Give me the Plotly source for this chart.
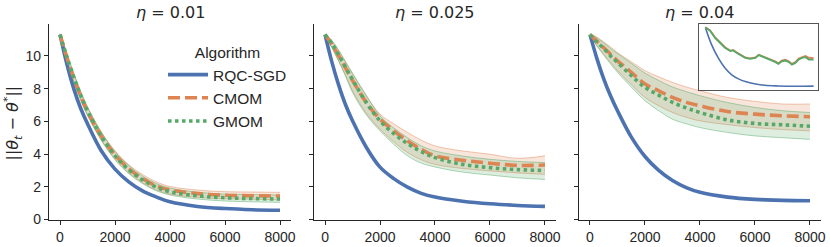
import plotly.graph_objects as go

# ---------------- data ----------------
steps = [0, 250, 500, 750, 1000, 1500, 2000, 2500, 3000, 3500, 4000, 5000, 6000, 7000, 8000]

etas = ["0.01", "0.025", "0.04"]

# eta = 0.01
p1_rqc = [11.3, 9.5, 8.0, 6.8, 5.85, 4.2, 3.08, 2.3, 1.75, 1.38, 1.08, 0.8, 0.67, 0.6, 0.57]
p1_cmom = [11.3, 9.9, 8.65, 7.55, 6.6, 5.1, 3.95, 3.1, 2.5, 2.05, 1.8, 1.58, 1.48, 1.45, 1.43]
p1_cmom_hi = [11.35, 10.1, 8.9, 7.8, 6.85, 5.35, 4.2, 3.35, 2.75, 2.3, 2.02, 1.8, 1.7, 1.68, 1.66]
p1_cmom_lo = [11.25, 9.7, 8.4, 7.3, 6.35, 4.85, 3.7, 2.85, 2.25, 1.8, 1.55, 1.35, 1.27, 1.24, 1.2]
p1_gmom = [11.3, 9.95, 8.7, 7.6, 6.65, 5.1, 3.9, 3.05, 2.42, 1.98, 1.7, 1.45, 1.33, 1.28, 1.25]
p1_gmom_hi = [11.35, 10.15, 8.95, 7.85, 6.9, 5.35, 4.15, 3.3, 2.65, 2.2, 1.92, 1.67, 1.55, 1.52, 1.5]
p1_gmom_lo = [11.25, 9.75, 8.45, 7.35, 6.4, 4.85, 3.65, 2.8, 2.2, 1.76, 1.5, 1.25, 1.13, 1.08, 1.05]

# eta = 0.025
p2_rqc = [11.3, 9.62, 8.2, 7.0, 6.03, 4.42, 3.2, 2.5, 1.98, 1.6, 1.37, 1.12, 0.96, 0.86, 0.8]
p2_cmom = [11.3, 10.7, 10.0, 9.25, 8.5, 7.16, 6.13, 5.42, 4.8, 4.29, 3.89, 3.62, 3.44, 3.31, 3.33]
p2_cmom_hi = [11.35, 10.9, 10.3, 9.6, 8.9, 7.55, 6.44, 5.85, 5.32, 4.85, 4.5, 4.19, 3.99, 3.74, 3.89]
p2_cmom_lo = [11.25, 10.5, 9.7, 8.8, 7.87, 6.5, 5.52, 4.75, 4.09, 3.65, 3.37, 3.12, 2.97, 2.85, 2.76]
p2_gmom = [11.3, 10.75, 10.05, 9.3, 8.55, 7.15, 6.03, 5.25, 4.64, 4.15, 3.78, 3.37, 3.17, 3.05, 3.0]
p2_gmom_hi = [11.35, 10.95, 10.35, 9.65, 8.95, 7.6, 6.34, 5.6, 5.0, 4.5, 4.19, 3.88, 3.68, 3.55, 3.48]
p2_gmom_lo = [11.25, 10.5, 9.65, 8.75, 7.77, 6.4, 5.42, 4.6, 3.89, 3.45, 3.21, 2.9, 2.72, 2.55, 2.45]

# eta = 0.04
p3_rqc = [11.3, 9.85, 8.6, 7.55, 6.65, 5.05, 3.85, 3.0, 2.38, 1.95, 1.66, 1.37, 1.23, 1.17, 1.15]
p3_cmom = [11.3, 10.9, 10.5, 10.1, 9.7, 9.0, 8.28, 7.87, 7.46, 7.16, 6.95, 6.6, 6.44, 6.34, 6.28]
p3_cmom_hi = [11.35, 11.15, 10.85, 10.55, 10.2, 9.65, 9.1, 8.72, 8.38, 8.1, 7.87, 7.46, 7.22, 7.06, 7.06]
p3_cmom_lo = [11.25, 10.65, 10.1, 9.6, 9.1, 8.25, 7.46, 6.95, 6.54, 6.25, 6.03, 5.8, 5.62, 5.5, 5.42]
p3_gmom = [11.3, 10.85, 10.45, 10.0, 9.6, 8.8, 8.08, 7.6, 7.16, 6.82, 6.54, 6.09, 5.87, 5.79, 5.7]
p3_gmom_hi = [11.35, 11.1, 10.8, 10.45, 10.15, 9.55, 8.95, 8.5, 8.1, 7.82, 7.57, 7.15, 6.85, 6.65, 6.54]
p3_gmom_lo = [11.25, 10.6, 10.05, 9.5, 9.0, 8.1, 7.26, 6.65, 6.13, 5.85, 5.62, 5.32, 5.11, 5.0, 4.9]

# inset (single run, eta = 0.04)
inset_steps = [0, 350, 700, 1100, 1450, 1850, 2050, 2300, 2700, 2950, 3300, 3700, 3950, 4150,
               4400, 4800, 5150, 5400, 5650, 5900, 6150, 6400, 6650, 6900, 7150, 7400, 7650, 8000]
inset_gmom = [11.3, 10.72, 9.56, 8.69, 7.82, 7.24, 7.36, 6.95, 6.37, 6.08, 5.91, 6.08, 6.55, 6.37,
              6.08, 5.79, 5.39, 5.04, 5.5, 5.62, 5.39, 4.92, 5.21, 5.79, 6.08, 6.2, 5.79, 5.79]
inset_cmom = [11.3, 10.8, 9.65, 8.8, 7.9, 7.3, 7.45, 7.05, 6.45, 6.15, 6.0, 6.15, 6.62, 6.45,
              6.2, 5.9, 5.5, 5.15, 5.62, 5.78, 5.5, 5.05, 5.35, 5.95, 6.25, 6.42, 6.1, 6.05]
inset_rqc_steps = [0, 450, 950, 1450, 1950, 2450, 2950, 3700, 4400, 5400, 6650, 8000]
inset_rqc = [11.3, 8.4, 6.08, 4.34, 3.18, 2.48, 2.02, 1.61, 1.38, 1.27, 1.21, 1.25]

algorithms = ["RQC-SGD", "CMOM", "GMOM"]
x_ticks = [0, 2000, 4000, 6000, 8000]
y_ticks = [0, 2, 4, 6, 8, 10]

panels = [
    (p1_rqc, p1_cmom, p1_cmom_lo, p1_cmom_hi, p1_gmom, p1_gmom_lo, p1_gmom_hi),
    (p2_rqc, p2_cmom, p2_cmom_lo, p2_cmom_hi, p2_gmom, p2_gmom_lo, p2_gmom_hi),
    (p3_rqc, p3_cmom, p3_cmom_lo, p3_cmom_hi, p3_gmom, p3_gmom_lo, p3_gmom_hi),
]

# ---------------- styling ----------------
BLUE = "#4C72B0"
ORANGE = "#DD8452"
GREEN = "#55A868"
ORANGE_FILL = "rgba(221,132,82,0.2)"
GREEN_FILL = "rgba(85,168,104,0.2)"
ORANGE_EDGE = "rgba(221,132,82,0.6)"
GREEN_EDGE = "rgba(85,168,104,0.6)"
INK = "#262626"
LW = 3.6

fig = go.Figure()

axis_ids = [("x", "y"), ("x2", "y2"), ("x3", "y3")]

for i, (rqc, cm, cm_lo, cm_hi, gm, gm_lo, gm_hi) in enumerate(panels):
    xa, ya = axis_ids[i]
    # bands
    for lo, hi, edge, fill in ((cm_lo, cm_hi, ORANGE_EDGE, ORANGE_FILL),
                               (gm_lo, gm_hi, GREEN_EDGE, GREEN_FILL)):
        fig.add_trace(go.Scatter(x=steps, y=lo, mode="lines", xaxis=xa, yaxis=ya,
                                 line=dict(color=edge, width=0.8, shape="spline"),
                                 showlegend=False, hoverinfo="skip"))
        fig.add_trace(go.Scatter(x=steps, y=hi, mode="lines", xaxis=xa, yaxis=ya,
                                 line=dict(color=edge, width=0.8, shape="spline"),
                                 fill="tonexty", fillcolor=fill,
                                 showlegend=False, hoverinfo="skip"))
    # mean lines
    fig.add_trace(go.Scatter(x=steps, y=rqc, mode="lines", xaxis=xa, yaxis=ya,
                             name=algorithms[0], showlegend=(i == 0),
                             line=dict(color=BLUE, width=LW, shape="spline")))
    fig.add_trace(go.Scatter(x=steps, y=cm, mode="lines", xaxis=xa, yaxis=ya,
                             name=algorithms[1], showlegend=(i == 0),
                             line=dict(color=ORANGE, width=LW, shape="spline", dash="12px,5px")))
    fig.add_trace(go.Scatter(x=steps, y=gm, mode="lines", xaxis=xa, yaxis=ya,
                             name=algorithms[2], showlegend=(i == 0),
                             line=dict(color=GREEN, width=LW, shape="spline", dash="3.5px,3.5px")))

# inset
fig.add_trace(go.Scatter(x=inset_rqc_steps, y=inset_rqc, mode="lines", xaxis="x4", yaxis="y4",
                         line=dict(color=BLUE, width=1.6, shape="spline"), showlegend=False))
fig.add_trace(go.Scatter(x=inset_steps, y=inset_cmom, mode="lines", xaxis="x4", yaxis="y4",
                         line=dict(color=ORANGE, width=1.8), showlegend=False))
fig.add_trace(go.Scatter(x=inset_steps, y=inset_gmom, mode="lines", xaxis="x4", yaxis="y4",
                         line=dict(color=GREEN, width=1.8), showlegend=False))

tickfont = dict(family="Liberation Sans, Arial, sans-serif", size=14, color=INK)

def xaxis(domain, anchor):
    return dict(domain=domain, anchor=anchor, range=[-400, 8400], tickvals=x_ticks,
                showline=True, linecolor=INK, linewidth=1.1, ticks="outside", ticklen=4,
                tickwidth=1.1, tickcolor=INK, showgrid=False, zeroline=False,
                tickfont=tickfont, automargin=False)

def yaxis(anchor, labels):
    return dict(domain=[0, 1], anchor=anchor, range=[-0.03, 11.95], tickvals=y_ticks,
                showline=True, linecolor=INK, linewidth=1.1, ticks="outside", ticklen=4,
                tickwidth=1.1, tickcolor=INK, showgrid=False, zeroline=False,
                showticklabels=labels, tickfont=tickfont, automargin=False)

d1 = [0.0, 0.3135]
d2 = [0.3433, 0.6567]
d3 = [0.6865, 1.0]

annotations = []
for dom, eta in zip((d1, d2, d3), etas):
    annotations.append(dict(text=f"<i>η</i> = {eta}", xref="paper", yref="paper",
                            x=(dom[0] + dom[1]) / 2, y=1.061, xanchor="center", yanchor="middle",
                            showarrow=False,
                            font=dict(family="DejaVu Sans", size=16, color=INK)))
annotations.append(dict(text="||<i>θ</i><sub><i>t</i></sub> − <i>θ</i><sup>*</sup>||",
                        xref="paper", yref="paper", x=-0.046, y=0.495, textangle=-90,
                        xanchor="center", yanchor="middle", showarrow=False,
                        font=dict(family="DejaVu Sans", size=16, color=INK)))

fig.update_layout(
    width=830, height=247, autosize=False,
    margin=dict(l=49, r=9, t=24, b=27, autoexpand=False),
    paper_bgcolor="white", plot_bgcolor="white",
    template="none",
    xaxis=xaxis(d1, "y"), yaxis=yaxis("x", True),
    xaxis2=xaxis(d2, "y2"), yaxis2=yaxis("x2", False),
    xaxis3=xaxis(d3, "y3"), yaxis3=yaxis("x3", False),
    xaxis4=dict(domain=[0.842, 0.996], anchor="y4", range=[-470, 8320], showline=True,
                mirror=True, linecolor="#555555", linewidth=1.3, showticklabels=False,
                ticks="", showgrid=False, zeroline=False, automargin=False),
    yaxis4=dict(domain=[0.663, 1.0], anchor="x4", range=[0.57, 11.88], showline=True,
                mirror=True, linecolor="#555555", linewidth=1.3, showticklabels=False,
                ticks="", showgrid=False, zeroline=False, automargin=False),
    annotations=annotations,
    showlegend=True,
    legend=dict(x=0.1477, y=0.929, xanchor="left", yanchor="top", tracegroupgap=0,
                traceorder="normal", itemwidth=40,
                bgcolor="rgba(0,0,0,0)", borderwidth=0,
                title=dict(text="Algorithm", side="top center",
                           font=dict(family="Liberation Sans, Arial, sans-serif", size=15.5, color=INK)),
                font=dict(family="Liberation Sans, Arial, sans-serif", size=15.5, color=INK)),
)

# remove the browser's default 8px body margin so the figure sits at the window origin
fig.write_html("out.html", config={"displayModeBar": False},
               post_script="document.body.style.margin='0';")
